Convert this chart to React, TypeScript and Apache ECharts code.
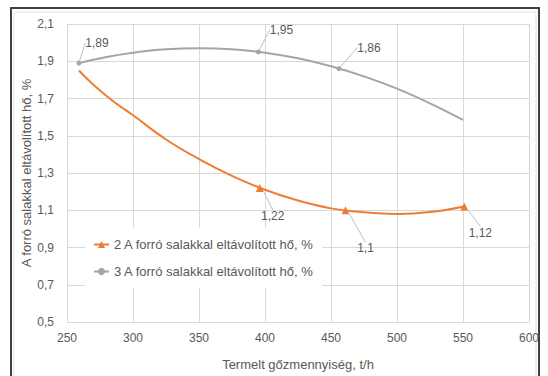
import React, { useEffect, useRef } from "react";
import * as echarts from "echarts";

const seriesNames = [
  "2 A forró salakkal eltávolított hő, %",
  "3 A forró salakkal eltávolított hő, %",
];

// measured (labelled) points
const orangePointX = [396, 461, 551];
const orangePointY = [1.22, 1.1, 1.12];
const grayPointX = [259, 395, 456];
const grayPointY = [1.89, 1.95, 1.86];

// curve values (Excel trend curves)
const orangeCurveX = [259, 270, 285, 300, 325, 350, 375, 400, 425, 450, 475, 500, 525, 551];
const orangeCurveY = [1.85, 1.774, 1.685, 1.61, 1.48, 1.375, 1.285, 1.21, 1.152, 1.11, 1.089, 1.08, 1.09, 1.12];
const grayCurveX = [259, 280, 300, 325, 350, 375, 400, 425, 450, 475, 500, 525, 550];
const grayCurveY = [1.89, 1.923, 1.946, 1.964, 1.97, 1.964, 1.946, 1.916, 1.873, 1.819, 1.753, 1.674, 1.585];

const xTitle = "Termelt gőzmennyiség, t/h";
const yTitle = "A forró salakkal eltávolított hő, %";

const FONT = "'Liberation Sans', Arial, sans-serif";
const TXT = "#595959";
const GRID = "#D9D9D9";
const ORANGE = "#ED7D31";
const GRAY = "#A5A5A5";
const LEADER = "#BFBFBF";

// label offsets from the marker centre (layout, not data)
const orangeOffsets = [[13, 28], [20, 38], [16, 26]];
const grayOffsets = [[18, -20], [23, -22], [30, -21]];

const fmt = (v: number) => String(v).replace(".", ",");
const pairs = (xs: number[], ys: number[]) => xs.map((x, i) => [x, ys[i]]);

export default function App() {
  const ref = useRef<HTMLDivElement>(null);
  useEffect(() => {
    document.body.style.margin = "0";
    if (!ref.current) return;
    const chart = echarts.init(ref.current, undefined, { renderer: "svg" });
    const labelCommon = {
      show: true,
      position: "inside" as const,
      color: TXT,
      fontSize: 12,
      fontFamily: FONT,
      formatter: (p: any) => fmt(p.value[1]),
    };
    const curve = (name: string, color: string, symbol: string, size: number, data: number[][], z: number) => ({
      name,
      type: "line",
      smooth: 0.4,
      z,
      showSymbol: false,
      symbol,
      symbolSize: size,
      lineStyle: { color, width: 2 },
      itemStyle: { color },
      data,
    });
    const markers = (name: string, color: string, symbol: string, size: number, data: number[][], offsets: number[][], z: number) => ({
      name,
      type: "scatter",
      z,
      symbol,
      symbolSize: size,
      itemStyle: { color, opacity: 1 },
      data,
      label: labelCommon,
      labelLine: { show: true, lineStyle: { color: LEADER, width: 1 } },
      labelLayout: (p: any) => ({ dx: offsets[p.dataIndex][0], dy: offsets[p.dataIndex][1] }),
    });
    chart.setOption({
      animation: false,
      backgroundColor: "#fff",
      textStyle: { fontFamily: FONT },
      graphic: [
        {
          type: "rect",
          shape: { x: 11, y: 8, width: 528, height: 400 },
          style: { fill: "none", stroke: "#404040", lineWidth: 2 },
          silent: true,
        },
        {
          type: "rect",
          shape: { x: 14, y: 12, width: 522, height: 400 },
          style: { fill: "none", stroke: "#E3E3E3", lineWidth: 1 },
          silent: true,
        },
      ],
      grid: { left: 67, right: 19, top: 24, bottom: 53, containLabel: false },
      xAxis: {
        type: "value",
        min: 250,
        max: 600,
        interval: 50,
        name: xTitle,
        nameLocation: "middle",
        nameGap: 36,
        nameTextStyle: { color: TXT, fontSize: 13, fontFamily: FONT },
        axisLine: { show: true, lineStyle: { color: GRID } },
        axisTick: { show: false },
        axisLabel: { color: TXT, fontSize: 12, margin: 10, fontFamily: FONT },
        splitLine: { show: true, lineStyle: { color: GRID } },
      },
      yAxis: {
        type: "value",
        min: 0.5,
        max: 2.1,
        interval: 0.2,
        name: yTitle,
        nameLocation: "middle",
        nameGap: 34,
        nameMoveOverlap: false,
        nameTextStyle: { color: TXT, fontSize: 13, fontFamily: FONT },
        axisLine: { show: false },
        axisTick: { show: false },
        axisLabel: {
          color: TXT,
          fontSize: 12,
          margin: 13,
          fontFamily: FONT,
          formatter: (v: number) => v.toFixed(1).replace(".", ","),
        },
        splitLine: { show: true, lineStyle: { color: GRID } },
      },
      legend: {
        orient: "vertical",
        left: 85,
        top: 228,
        padding: [10, 8, 10, 8],
        itemGap: 14,
        itemWidth: 15,
        itemHeight: 9,
        backgroundColor: "#fff",
        textStyle: { color: TXT, fontSize: 13, fontFamily: FONT },
        data: seriesNames,
      },
      series: [
        curve(seriesNames[0], ORANGE, "triangle", 8, pairs(orangeCurveX, orangeCurveY), 3),
        curve(seriesNames[1], GRAY, "circle", 5, pairs(grayCurveX, grayCurveY), 2),
        markers(seriesNames[0], ORANGE, "triangle", 8, pairs(orangePointX, orangePointY), orangeOffsets, 5),
        markers(seriesNames[1], GRAY, "circle", 5, pairs(grayPointX, grayPointY), grayOffsets, 4),
      ],
    });
    return () => chart.dispose();
  }, []);
  return <div ref={ref} style={{ width: 548, height: 376 }} />;
}
